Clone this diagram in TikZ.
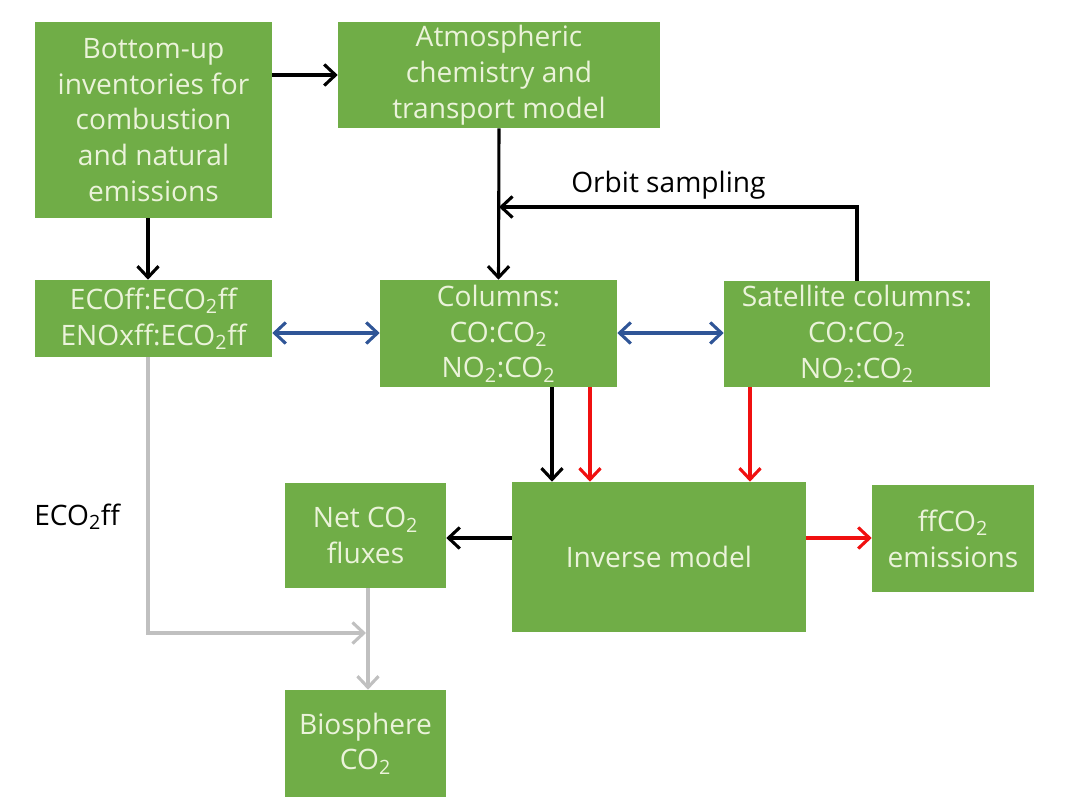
\documentclass[tikz,border=0pt]{standalone}
\usepackage{fontspec}
\setmainfont{Open Sans}
\usetikzlibrary{arrows.meta}
\definecolor{boxgreen}{HTML}{70AD47}
\definecolor{boxtext}{HTML}{EBF3DA}
\definecolor{arrblue}{HTML}{2F5597}
\definecolor{arrred}{HTML}{F01010}
\definecolor{arrgray}{HTML}{C0C0C0}
\tikzset{
  box/.style={fill=boxgreen, text=boxtext, inner sep=0pt, align=center,
    font=\fontsize{20}{25.5}\selectfont},
  conn/.style={line width=2.2pt, -{Straight Barb[length=8pt,width=15pt,line width=2.2pt]}},
  dconn/.style={line width=2.2pt, {Straight Barb[length=8pt,width=15pt,line width=2.2pt]}-{Straight Barb[length=8pt,width=15pt,line width=2.2pt]}},
  lbl/.style={font=\fontsize{20}{25.5}\selectfont, inner sep=0pt}
}
\begin{document}
\begin{tikzpicture}[x=0.025cm,y=-0.025cm]
\useasboundingbox (0,0) rectangle (1080,810);
\node[box, minimum width={237*0.025cm}, minimum height={196*0.025cm}] (bu) at (153.5,120)
  {Bottom-up\\inventories for\\combustion\\and natural\\emissions};
\node[box, minimum width={322*0.025cm}, minimum height={106*0.025cm}] (atm) at (499,75)
  {Atmospheric\\chemistry and\\transport model};
\node[box, minimum width={237*0.025cm}, minimum height={77*0.025cm}] (eco) at (153.5,318.5)
  {ECOff:ECO\textsubscript{2}ff\\ENOxff:ECO\textsubscript{2}ff};
\node[box, minimum width={237*0.025cm}, minimum height={107*0.025cm}] (col) at (498.5,333.5)
  {Columns:\\CO:CO\textsubscript{2}\\NO\textsubscript{2}:CO\textsubscript{2}};
\node[box, minimum width={266*0.025cm}, minimum height={106*0.025cm}] (sat) at (857,334)
  {Satellite columns:\\CO:CO\textsubscript{2}\\NO\textsubscript{2}:CO\textsubscript{2}};
\node[box, minimum width={161*0.025cm}, minimum height={105*0.025cm}] (net) at (365.5,535.5)
  {Net CO\textsubscript{2}\\fluxes};
\node[box, minimum width={294*0.025cm}, minimum height={150*0.025cm}] (inv) at (659,557)
  {Inverse model};
\node[box, minimum width={162*0.025cm}, minimum height={107*0.025cm}] (ff) at (953,538.5)
  {ffCO\textsubscript{2}\\emissions};
\node[box, minimum width={161*0.025cm}, minimum height={107*0.025cm}] (bio) at (365.5,743.5)
  {Biosphere\\CO\textsubscript{2}};

\coordinate (orbitcorner) at (857,207);
\coordinate (orbitend) at (499,207);
\coordinate (graycorner) at (148,633);
\coordinate (grayend) at (366,633);

% black arrows
\draw[conn] (bu.east |- 0,75) -- (atm.west |- 0,75);
\draw[conn] (bu.south -| 148,0) -- (eco.north -| 148,0);
\draw[conn] (atm.south) -- (col.north);
\draw[conn] (sat.north) -- (orbitcorner) -- (orbitend);
\node[lbl, anchor=west] (orbitlbl) at (571,185) {Orbit sampling};
\draw[conn] (col.south -| 552,0) -- (inv.north -| 552,0);
\draw[conn] (inv.west |- 0,538) -- (net.east |- 0,538);
% blue
\draw[dconn, arrblue] (eco.east |- 0,333) -- (col.west |- 0,333);
\draw[dconn, arrblue] (col.east |- 0,333) -- (sat.west |- 0,333);
% red
\draw[conn, arrred] (col.south -| 590,0) -- (inv.north -| 590,0);
\draw[conn, arrred] (sat.south -| 750,0) -- (inv.north -| 750,0);
\draw[conn, arrred] (inv.east |- 0,538) -- (ff.west |- 0,538);
% gray
\draw[conn, arrgray] (eco.south -| 148,0) -- (graycorner) -- (grayend);
\draw[conn, arrgray] (net.south -| 368,0) -- (bio.north -| 368,0);
\node[lbl, anchor=west] (ecolbl) at (34,517) {ECO\textsubscript{2}ff};
\end{tikzpicture}
\end{document}
